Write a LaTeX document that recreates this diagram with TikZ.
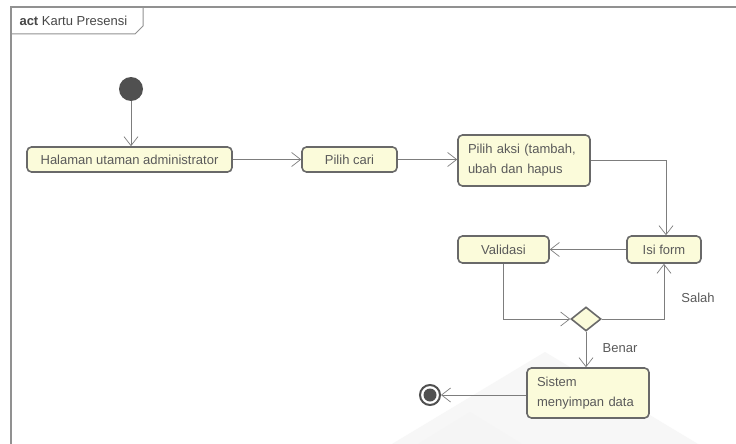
\documentclass[tikz,border=0pt]{standalone}
\usepackage{fontspec}
\setmainfont{Liberation Sans}
\usetikzlibrary{arrows.meta,shapes.geometric}
\definecolor{boxfill}{RGB}{251,251,218}
\definecolor{boxline}{RGB}{105,105,105}
\definecolor{edgec}{RGB}{125,125,125}
\definecolor{txt}{RGB}{90,90,90}
\definecolor{framec}{RGB}{145,145,145}
\definecolor{dotc}{RGB}{80,80,80}
\begin{document}
\begin{tikzpicture}[x=1pt,y=-1pt,
  lbl/.style={font=\fontsize{13}{20}\selectfont, text=txt},
  action/.style={lbl, draw=boxline, line width=1.6pt, fill=boxfill,
    rounded corners=4.5pt, inner sep=0pt},
  multi/.style={action, inner xsep=10pt, align=left},
  flow/.style={draw=edgec, line width=0.9pt,
    -{Straight Barb[length=9pt,width=14pt,line width=0.7pt]}},
  decision/.style={diamond, draw=boxline, line width=1.6pt, fill=boxfill,
    minimum width=30pt, minimum height=24pt, inner sep=0pt},
  startdot/.style={circle, fill=dotc, minimum size=24pt, inner sep=0pt},
  enddot/.style={circle, draw=dotc, line width=2pt, minimum size=20pt,
    inner sep=0pt, path picture={\fill[dotc] (path picture bounding box.center) circle (6.5pt);}}
]
\useasboundingbox (0,0) rectangle (736,444);
\fill[white] (0,0) rectangle (736,444);

% faint watermark in the background
\fill[black!3] (392,444) -- (545,352) -- (698,444) -- cycle;
\fill[black!4] (418,444) -- (470,412) -- (522,444) -- cycle;

% activity frame with its name tab
\draw[framec, line width=1.2pt] (11,444) -- (11,7) -- (736,7);
\draw[framec, line width=1pt] (11,34) -- (135,34) -- (143,26) -- (143,7);
\node[lbl, anchor=west, text=black!72] (title) at (16,21) {\textbf{act} Kartu Presensi};

% nodes
\node[startdot] (init) at (131,89) {};
\node[action, minimum width=205pt, minimum height=25pt] (halaman) at (129.5,159.5) {Halaman utaman administrator};
\node[action, minimum width=95pt, minimum height=25pt] (cari) at (349.5,159.5) {Pilih cari};
\node[multi, text width=112pt, minimum height=51pt] (aksi) at (524,160.5) {Pilih aksi (tambah,\\ubah dan hapus};
\node[action, minimum width=74pt, minimum height=27pt] (isi) at (664,249.5) {Isi form};
\node[action, minimum width=91pt, minimum height=27pt] (validasi) at (503.5,249.5) {Validasi};
\node[decision] (dec) at (586,319) {};
\node[multi, text width=102pt, minimum height=50pt] (simpan) at (588,393) {Sistem\\menyimpan data};
\node[enddot] (final) at (430,395) {};

% guard labels
\node[lbl] (salah) at (698,298) {Salah};
\node[lbl] (benar) at (620,348) {Benar};

% control flows
\draw[flow] (init) -- (init |- halaman.north);
\draw[flow] (halaman.east) -- (cari.west);
\draw[flow] (cari.east) -- (cari.east -| aksi.west);
\draw[flow] (aksi.east) -| ([xshift=2pt]isi.north);
\draw[flow] (isi.west) -- (validasi.east);
\draw[flow] (validasi.south) |- (dec.west);
\draw[flow] (dec.east) -| (isi.south);
\draw[flow] (dec.south) -- (dec.south |- simpan.north);
\draw[flow] (simpan.west |- final) -- (final);
\end{tikzpicture}
\end{document}
